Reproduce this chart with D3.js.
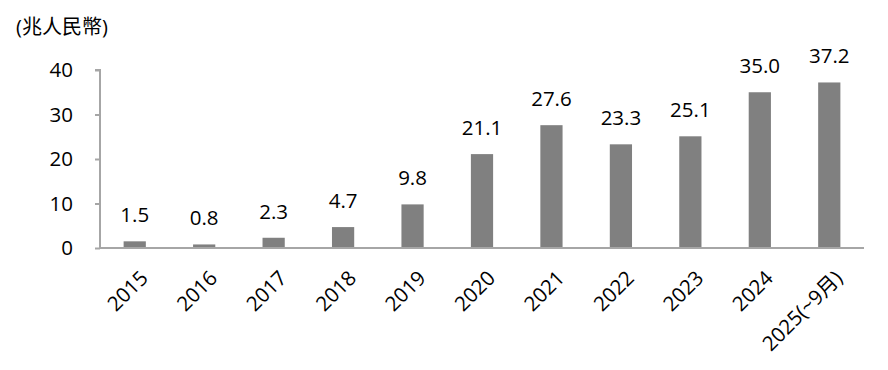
<!DOCTYPE html>
<html>
<head>
<meta charset="utf-8">
<script src="https://cdn.jsdelivr.net/npm/d3@7"></script>
<style>
body { margin: 0; background: #fff; }
text { font-family: "Open Sans", "Noto Sans CJK TC", sans-serif; fill: #000; }
</style>
</head>
<body>
<svg></svg>
<script>
var years = ["2015","2016","2017","2018","2019","2020","2021","2022","2023","2024","2025(~9月)"]
var values = [1.5, 0.8, 2.3, 4.7, 9.8, 21.1, 27.6, 23.3, 25.1, 35.0, 37.2]
var yTicks = [0, 10, 20, 30, 40]
var unitLabel = "(兆人民幣)"

var screen = {width: 888, height: 370}
var axisColor = "#a6a6a6"
var fontSize = "20.5px"

var svg = d3.select("svg")
    .attr("width", screen.width)
    .attr("height", screen.height)

var xscale = d3.scaleBand()
    .domain(years)
    .range([100, 864])
    .paddingInner(0.68)
    .paddingOuter(0.34)

var yscale = d3.scaleLinear()
    .domain([0, 40])
    .range([248, 70])

// y axis
var yAxis = svg.append("g")
    .attr("transform", "translate(100,0)")
    .call(d3.axisLeft(yscale).tickValues(yTicks).tickSize(5).tickPadding(22))
yAxis.select(".domain").attr("stroke", axisColor).attr("stroke-width", 2)
    .attr("d", "M-5,70H0V248")
yAxis.selectAll(".tick line").attr("stroke", axisColor).attr("stroke-width", 2)
yAxis.selectAll(".tick text").style("font-size", fontSize).attr("fill", "#000")

// bars
svg.selectAll("rect.bar")
    .data(values)
    .enter()
    .append("rect")
    .attr("class", "bar")
    .attr("x", function(d, i) { return xscale(years[i]) })
    .attr("width", xscale.bandwidth())
    .attr("y", function(d) { return yscale(d) })
    .attr("height", function(d) { return yscale(0) - yscale(d) })
    .attr("fill", "#808080")

// x axis line
svg.append("line")
    .attr("x1", 100).attr("x2", 864)
    .attr("y1", yscale(0)).attr("y2", yscale(0))
    .attr("stroke", axisColor).attr("stroke-width", 2)

// value labels
svg.selectAll("text.val")
    .data(values)
    .enter()
    .append("text")
    .attr("class", "val")
    .attr("x", function(d, i) { return xscale(years[i]) + xscale.bandwidth() / 2 })
    .attr("y", function(d) { return yscale(d) - 19 })
    .attr("text-anchor", "middle")
    .style("font-size", fontSize)
    .text(function(d) { return d.toFixed(1) })

// x labels
svg.selectAll("text.xl")
    .data(years)
    .enter()
    .append("text")
    .attr("class", "xl")
    .attr("transform", function(d) {
        return "translate(" + (xscale(d) + xscale.bandwidth() / 2 + 4) + ",269) rotate(-45)"
    })
    .attr("text-anchor", "end")
    .attr("dy", "0.72em")
    .style("font-size", fontSize)
    .text(function(d) { return d })

// unit label
svg.append("text")
    .attr("x", 16)
    .attr("y", 34)
    .style("font-size", "20px")
    .text(unitLabel)
</script>
</body>
</html>
